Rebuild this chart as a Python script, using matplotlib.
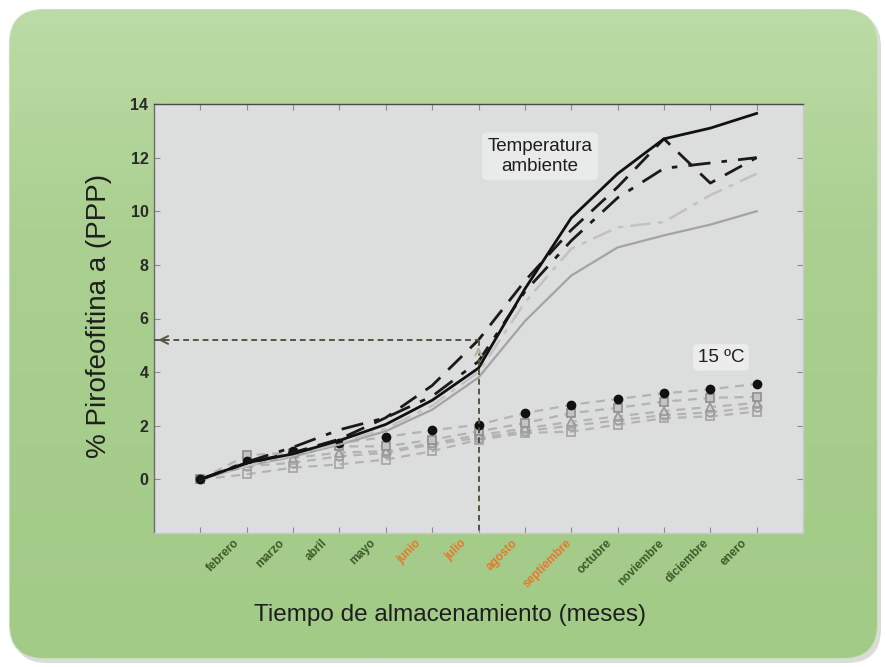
import numpy as np
import matplotlib
matplotlib.use('Agg')
import matplotlib.pyplot as plt
from matplotlib.patches import FancyBboxPatch
from matplotlib.colors import LinearSegmentedColormap

plt.rcParams['font.family'] = ['Liberation Sans', 'DejaVu Sans']

# ---------------- data ----------------
months = ['febrero', 'marzo', 'abril', 'mayo', 'junio', 'julio', 'agosto',
          'septiembre', 'octubre', 'noviembre', 'diciembre', 'enero']
month_colors = ['#3d5a2a'] * 4 + ['#e8782a'] * 4 + ['#3d5a2a'] * 4
t = list(range(13))

# Temperatura ambiente
amb_black_solid = [0, 0.62, 0.95, 1.45, 2.05, 2.95, 4.15, 7.1, 9.75, 11.4, 12.7, 13.1, 13.65]
amb_black_dash = [0, 0.6, 1.0, 1.5, 2.3, 3.5, 5.2, 7.4, 9.3, 10.9, 12.7, 11.05, 12.0]
amb_black_dashdot = [0, 0.65, 1.2, 1.85, 2.3, 3.1, 4.4, 7.0, 8.9, 10.5, 11.6, 11.8, 12.0]
amb_gray_dashdot = [0, 0.5, 0.9, 1.35, 1.9, 2.75, 4.0, 6.6, 8.6, 9.4, 9.6, 10.6, 11.4]
amb_gray_solid = [0, 0.5, 0.85, 1.3, 1.8, 2.6, 3.8, 5.9, 7.6, 8.65, 9.1, 9.5, 10.0]

# 15 ºC
c15_black = [0, 0.7, 1.05, 1.35, 1.58, 1.83, 2.04, 2.47, 2.78, 3.0, 3.21, 3.36, 3.56]
c15_square = [0, 0.9, 1.0, 1.23, 1.23, 1.48, 1.79, 2.1, 2.47, 2.67, 2.9, 3.04, 3.08]
c15_triangle = [0, 0.6, 0.8, 1.0, 1.05, 1.35, 1.65, 1.9, 2.15, 2.35, 2.55, 2.7, 2.85]
c15_circle = [0, 0.49, 0.62, 0.86, 0.99, 1.3, 1.55, 1.8, 2.0, 2.2, 2.4, 2.5, 2.7]
c15_square2 = [0, 0.19, 0.44, 0.56, 0.74, 1.05, 1.48, 1.73, 1.78, 2.04, 2.28, 2.35, 2.53]

ref_month = 6
ref_value = 5.2

# ---------------- figure ----------------
W, H = 885, 667
fig = plt.figure(figsize=(W / 100, H / 100), dpi=100)
fig.patch.set_facecolor('white')

bg = fig.add_axes([0, 0, 1, 1], zorder=-5)
bg.set_xlim(0, W)
bg.set_ylim(H, 0)
bg.axis('off')

shadow = FancyBboxPatch((13, 13), 868, 650, boxstyle='round,pad=0,rounding_size=34',
                        fc='#d9ddd6', ec='none', transform=bg.transData)
bg.add_patch(shadow)
panel = FancyBboxPatch((10, 10), 867, 648, boxstyle='round,pad=0,rounding_size=34',
                       fc='#a9cf8f', ec='#c9dfbb', lw=1.5, transform=bg.transData)
bg.add_patch(panel)
grad = np.linspace(0, 1, 256).reshape(-1, 1)
cmap = LinearSegmentedColormap.from_list('g', ['#bcdba6', '#abd091', '#a6cd8b', '#a3cb88'])
im = bg.imshow(grad, extent=(10, 877, 658, 10), cmap=cmap, aspect='auto', zorder=1)
im.set_clip_path(panel)

ax = fig.add_axes([154 / W, 1 - 533 / H, (803 - 154) / W, (533 - 104) / H])
ax.set_facecolor('#dcdddd')
ax.set_xlim(-1.0, 13.0)
ax.set_ylim(-2.0, 14.0)

# 15 ºC series
dash15 = dict(color='#b3b3b3', lw=1.6, linestyle=(0, (4, 3)), zorder=2)
ax.plot(t, c15_square2, marker='s', ms=6, mfc='none', mec='#a8a8a8', mew=1.3, **dash15)
ax.plot(t, c15_circle, marker='o', ms=6, mfc='none', mec='#a0a0a0', mew=1.3, **dash15)
ax.plot(t, c15_triangle, marker='^', ms=6, mfc='#cfcfcf', mec='#9a9a9a', mew=1.2, **dash15)
ax.plot(t, c15_square, marker='s', ms=6, mfc='#c4c4c4', mec='#8e8e8e', mew=1.2, **dash15)
ax.plot(t, c15_black, marker='o', ms=6, mfc='#111111', mec='#111111', **dash15)

# ambient temperature
ax.plot(t, amb_gray_solid, color='#a3a3a3', lw=1.6, zorder=3)
ax.plot(t, amb_gray_dashdot, color='#c2c2c2', lw=1.8, linestyle=(0, (8, 3, 2, 3)), zorder=3)
ax.plot(t, amb_black_dashdot, color='#1a1a1a', lw=2.0, linestyle=(0, (8, 4, 2, 4)), zorder=4)
ax.plot(t, amb_black_dash, color='#1a1a1a', lw=2.0, linestyle=(0, (7, 4)), zorder=4)
ax.plot(t, amb_black_solid, color='#111111', lw=2.0, zorder=5)

# reference lines
refc = '#55553f'
ax.plot([-1.0, ref_month], [ref_value, ref_value], color=refc, lw=1.4,
        linestyle=(0, (3, 2)), zorder=6)
ax.plot([ref_month, ref_month], [ref_value, -2.0], color=refc, lw=1.4,
        linestyle=(0, (3, 2)), zorder=6)
ax.annotate('', xy=(-0.97, ref_value), xytext=(-0.7, ref_value),
            arrowprops=dict(arrowstyle='->', color=refc, lw=1.4,
                            mutation_scale=14), zorder=6)
ax.annotate('', xy=(ref_month, ref_value - 0.15), xytext=(ref_month, ref_value - 0.6),
            arrowprops=dict(arrowstyle='->', color='#b8b49a', lw=1.4,
                            mutation_scale=12), zorder=6)

# texts
ax.text(7.33, 12.05, 'Temperatura\nambiente', ha='center', va='center',
        fontsize=13.5, color='#1e1e1e', linespacing=1.2, zorder=7,
        bbox=dict(boxstyle='round,pad=0.3', fc='#e9eaea', ec='none'))
ax.text(11.23, 4.55, '15 ºC', ha='center', va='center', fontsize=13.5,
        color='#1e1e1e', zorder=7,
        bbox=dict(boxstyle='round,pad=0.25', fc='#ececec', ec='none'))

# ticks
ax.set_xticks(t)
ax.set_xticklabels([])
ax.set_xticks([i + 0.5 for i in range(12)], minor=True)
ax.set_xticklabels(months, minor=True, rotation=45, ha='center', va='top',
                   fontsize=8.5, fontweight='bold')
for lab, c in zip(ax.get_xticklabels(minor=True), month_colors):
    lab.set_color(c)
ax.tick_params(axis='x', which='minor', length=0, pad=3)
ax.tick_params(axis='x', which='major', direction='in', length=4, color='#8c8c8c',
               top=True, bottom=True)

yt = list(range(0, 15, 2))
ax.set_yticks(yt)
ax.set_yticklabels([str(v) for v in yt], fontsize=11.5, fontweight='bold', color='#2a2a2a')
ax.tick_params(axis='y', direction='in', length=4, color='#8c8c8c', left=True,
               right=True, pad=4)

for s in ax.spines.values():
    s.set_color('#6b6b6b')
    s.set_linewidth(1.0)
ax.spines['top'].set_color('#4a4a4a')
ax.spines['right'].set_color('#c9c9c9')
ax.spines['bottom'].set_color('#c9c9c9')

fig.text(99 / W, 1 - 316 / H, '% Pirofeofitina a (PPP)', rotation=90, ha='center',
         va='center', fontsize=20, color='#1e1e1e')
fig.text(450 / W, 1 - 615 / H, 'Tiempo de almacenamiento (meses)', ha='center',
         va='center', fontsize=17.5, color='#1e1e1e')

fig.savefig('out.png', dpi=100)
